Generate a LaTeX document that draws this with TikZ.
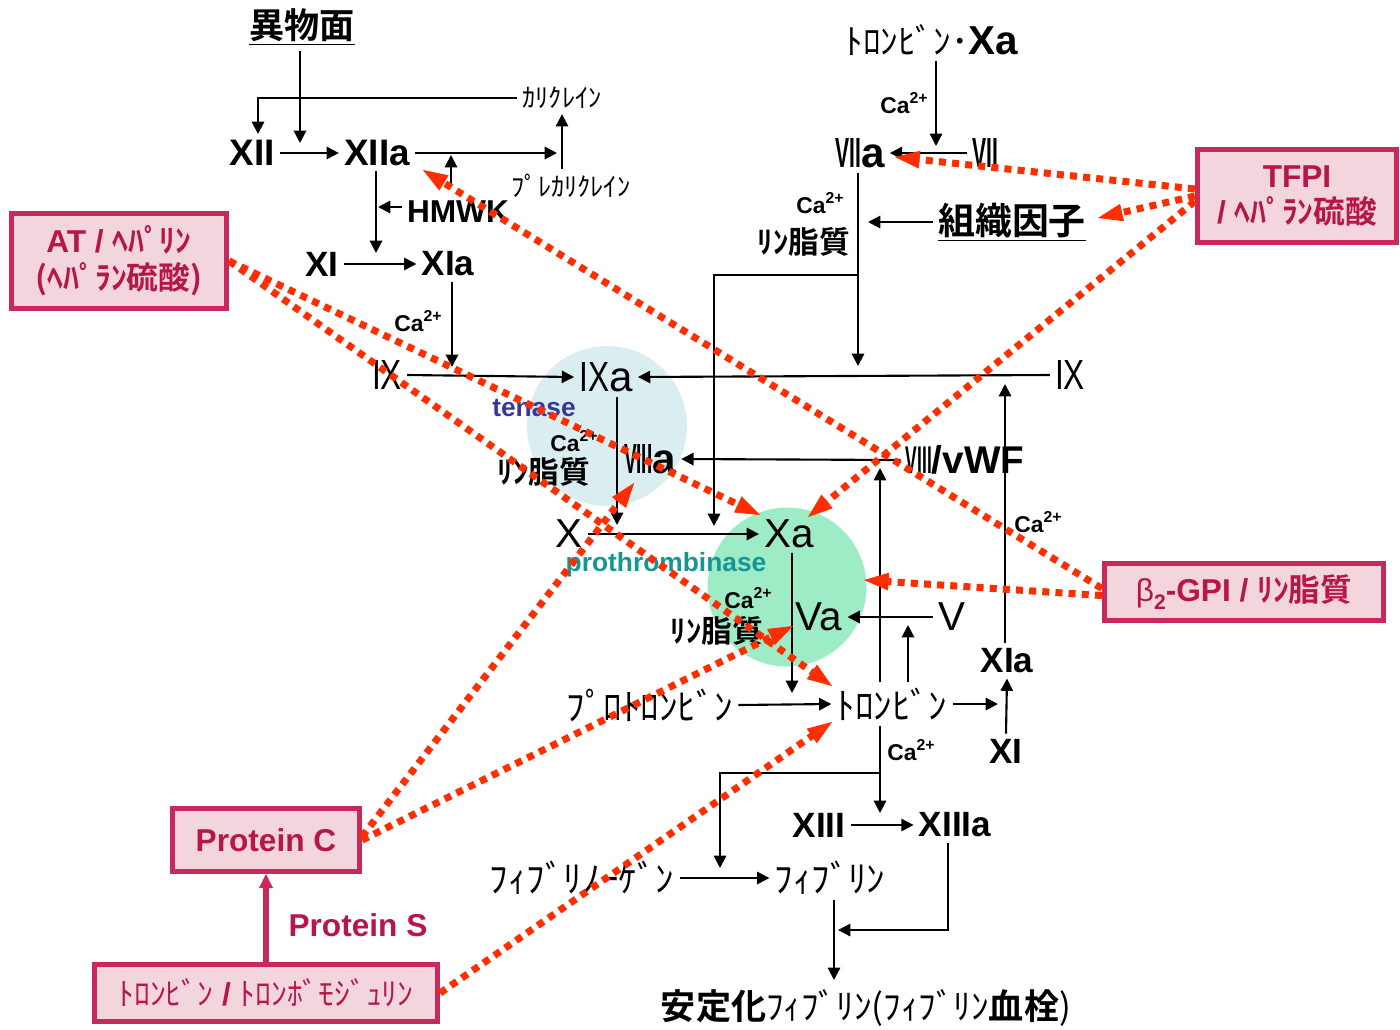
\documentclass[tikz,border=0pt]{standalone}
\usepackage{fontspec}
\usepackage{graphicx}
\setmainfont{Liberation Sans}
\newfontfamily\jp{Noto Sans CJK JP}[BoldFont={Noto Sans CJK JP Bold}]
\usetikzlibrary{arrows.meta}

\definecolor{inhib}{RGB}{255,45,0}
\definecolor{regbd}{RGB}{200,40,90}
\definecolor{regfill}{RGB}{243,213,222}
\definecolor{regtxt}{RGB}{185,22,72}
\definecolor{tenfill}{RGB}{218,237,241}
\definecolor{profill}{RGB}{158,236,198}
\definecolor{tentxt}{RGB}{55,55,160}
\definecolor{protxt}{RGB}{20,150,150}

\newcommand\fsz[1]{\fontsize{#1}{#1}\selectfont}
\newcommand\caion{\fsz{13}\bfseries Ca\raisebox{0.42em}{\fsz{9}\bfseries 2+}}
\newcommand\cnd[2]{\scalebox{#1}[1]{#2}}

\begin{document}
\begin{tikzpicture}[x=0.02cm, y=-0.02cm,
  lab/.style={inner sep=0pt, outer sep=3pt},
  fac/.style={lab, font=\fsz{21}\bfseries},
  rom/.style={lab, font=\fsz{24}},
  romb/.style={lab, font=\fsz{24}\bfseries},
  kana/.style={lab, font=\jp\fsz{21}},
  kanas/.style={lab, font=\jp\fsz{15}},
  lipid/.style={lab, font=\jp\bfseries\fsz{17.5}},
  arr/.style={line width=1.2pt, -{Triangle[length=7pt,width=7pt]}},
  inh/.style={draw=inhib, line width=4pt, dash pattern=on 4pt off 3.5pt,
              -{Triangle[length=14pt,width=10pt,line width=0.4pt]}},
  regbox/.style={draw=regbd, line width=3pt, fill=regfill, text=regtxt,
                 inner sep=0pt, align=center, font=\fsz{18}\bfseries},
]
\useasboundingbox (0,0) rectangle (1400,1029);

% enzyme complexes
\node[circle, fill=tenfill, minimum size=3.2cm, inner sep=0pt] (tenase) at (607,426) {};
\node[circle, fill=profill, minimum size=3.18cm, inner sep=0pt] (prothrombinase) at (787,587) {};

% contact pathway
\node[lab, font=\jp\bfseries\fsz{20}] (ibutsu) at (302,27) {\underline{異物面}};
\node[kanas] (kal) at (562,98) {ｶﾘｸﾚｲﾝ};
\node[kanas] (prekal) at (571,186) {ﾌﾟﾚｶﾘｸﾚｲﾝ};
\node[fac] (XII) at (252,153) {XII};
\node[fac] (XIIa) at (377,153) {XIIa};
\node[lab, font=\fsz{18}\bfseries] (HMWK) at (458,212) {HMWK};
\node[fac, font=\fsz{20}\bfseries] (XI) at (322,264) {XI};
\node[fac, font=\fsz{20}\bfseries] (XIa) at (448,264) {XIa};
\node[lab] (ca1) at (418,321) {\caion};
\node[rom] (IX) at (387,375) {\cnd{0.75}{IX}};
\node[rom] (IXa) at (606,377) {\cnd{0.75}{IX}a};

% tenase labels
\node[lab, font=\fsz{15}\bfseries, text=tentxt] (tenlbl) at (534,408) {tenase};
\node[lab] (ca2) at (574,441) {\caion};
\node[lipid] (lip2) at (544,472) {ﾘﾝ脂質};
\node[romb] (VIIIa) at (650,459) {\cnd{0.45}{VIII}a};

% extrinsic pathway
\node[lab, font=\fsz{20}] (thrXa) at (932,40) {{\jp ﾄﾛﾝﾋﾞﾝ･}\textbf{\fsz{23}Xa}};
\node[lab] (ca3) at (904,103) {\caion};
\node[romb] (VIIa) at (860,153) {\cnd{0.5}{VII}a};
\node[romb] (VII) at (985,153) {\cnd{0.5}{VII}};
\node[lab] (ca4) at (820,203) {\caion};
\node[lipid] (lip4) at (804,242) {ﾘﾝ脂質};
\node[lab, font=\jp\bfseries\fsz{21}] (TF) at (1012,222) {\underline{組織因子}};
\node[rom] (IXr) at (1070,375) {\cnd{0.75}{IX}};
\node[romb, font=\fsz{22}\bfseries] (VIIIv) at (965,460) {\cnd{0.45}{VIII}/vWF};
\node[lab] (ca5) at (1038,522) {\caion};

% common pathway
\node[rom, font=\fsz{23}] (X) at (569,534) {X};
\node[rom, font=\fsz{23}] (Xa) at (789,534) {Xa};
\node[lab, font=\fsz{15}\bfseries, text=protxt] (prolbl) at (666,565) {prothrombinase};
\node[lab] (ca6) at (748,598) {\caion};
\node[lipid] (lip6) at (717,631) {ﾘﾝ脂質};
\node[rom, font=\fsz{23}] (Va) at (819,617) {Va};
\node[rom, font=\fsz{23}] (V) at (952,617) {V};
\node[kana] (prothr) at (650,705) {ﾌﾟﾛﾄﾛﾝﾋﾞﾝ};
\node[kana] (thr) at (892,704) {ﾄﾛﾝﾋﾞﾝ};
\node[fac, font=\fsz{20}\bfseries] (XIa2) at (1007,661) {XIa};
\node[fac, font=\fsz{20}\bfseries] (XI2) at (1006,751) {XI};
\node[lab] (ca7) at (911,750) {\caion};
\node[fac, font=\fsz{20}\bfseries] (XIII) at (819,825) {XIII};
\node[fac, font=\fsz{20}\bfseries] (XIIIa) at (955,825) {XIIIa};
\node[kana] (fgn) at (582,878) {ﾌｨﾌﾞﾘﾉｰｹﾞﾝ};
\node[kana] (fbn) at (830,878) {ﾌｨﾌﾞﾘﾝ};
\node[lab, font=\jp\fsz{20}] (stable) at (866,1008) {\textbf{安定化}ﾌｨﾌﾞﾘﾝ(ﾌｨﾌﾞﾘﾝ\textbf{血栓})};

% regulators
\node[regbox, minimum width=4.3cm, minimum height=1.9cm] (AT) at (119,261)
  {\fsz{18}AT / {\jp ﾍﾊﾟﾘﾝ}\\[3pt]{\jp (ﾍﾊﾟﾗﾝ硫酸)}};
\node[regbox, minimum width=3.98cm, minimum height=1.86cm] (TFPI) at (1297,196)
  {TFPI\\[3pt]/ {\jp ﾍﾊﾟﾗﾝ硫酸}};
\node[regbox, minimum width=5.58cm, minimum height=1.14cm] (B2) at (1244,592)
  {{\mdseries β}\raisebox{-0.25em}{\fsz{12}2}-GPI / {\jp ﾘﾝ脂質}};
\node[regbox, minimum width=3.74cm, minimum height=1.26cm] (PC) at (266,840) {Protein C};
\node[regbox, minimum width=6.86cm, minimum height=1.14cm] (TM) at (266,993)
  {{\jp\mdseries ﾄﾛﾝﾋﾞﾝ} / {\jp\mdseries ﾄﾛﾝﾎﾞﾓｼﾞｭﾘﾝ}};
\node[lab, font=\fsz{18}\bfseries, text=regtxt] (PS) at (358,925) {Protein S};
\draw[draw=regbd, line width=3pt, -{Triangle[length=8pt,width=8pt,line width=0.3pt]}, fill=regbd]
  (TM.north) -- (PC.south);

% junction points on the reaction lines
\coordinate (jXII) at (300,143);
\coordinate (jKal) at (258,134);
\coordinate (pkx) at (557,153);
\coordinate (jHM) at (451,155);
\coordinate (jXI) at (376,253);
\coordinate (jHMW) at (378,207);
\coordinate (jIX) at (452,367);
\coordinate (jX) at (617,525);
\coordinate (jVII) at (936,146);
\coordinate (jIXr) at (858,366);
\coordinate (br1) at (858,275);
\coordinate (jXa) at (714,526);
\coordinate (jTF) at (868,222);
\coordinate (jIXr2) at (1005,384);
\coordinate (jVIII) at (880,468);
\coordinate (jPT) at (792,693);
\coordinate (jV) at (908,625);
\coordinate (jXI2) at (998,704);
\coordinate (jXIII) at (880,813);
\coordinate (br2) at (880,773);
\coordinate (jFg) at (720,868);
\coordinate (jSt) at (834,980);
\coordinate (cXIIIa) at (948,930);
\coordinate (jFb) at (838,930);

% reaction arrows
\draw[arr] (ibutsu.south -| jXII) -- (jXII);
\draw[arr] (kal.west) -| (jKal);
\draw[arr] (XII.east) -- (XIIa.west);
\draw[arr] (XIIa.east) -- (pkx);
\draw[arr] (prekal.north -| kal.south) -- (kal.south);
\draw[arr] ([yshift=5pt]HMWK.north -| jHM) -- (jHM);
\draw[arr] (XIIa.south -| jXI) -- (jXI);
\draw[arr] (HMWK.west |- jHMW) -- (jHMW);
\draw[arr] (XI.east) -- (XIa.west);
\draw[arr] (XIa.south -| jIX) -- (jIX);
\draw[arr] (IX.east) -- (IXa.west);
\draw[arr] (IXr.west) -- (IXa.east);
\draw[arr] (IXa.south -| jX) -- (jX);
\draw[arr] (VIIIv.west) -- (VIIIa.east);
\draw[arr] (thrXa.south -| jVII) -- (jVII);
\draw[arr] (VII.west) -- (VIIa.east);
\draw[arr] (VIIa.south -| jIXr) -- (jIXr);
\draw[arr] (br1) -| (jXa);
\draw[arr] (TF.west |- jTF) -- (jTF);
\draw[arr] (XIa2.north -| jIXr2) -- (jIXr2);
\draw[arr] (thr.north -| jVIII) -- (jVIII);
\draw[arr] (X.east) -- (Xa.west);
\draw[arr] (Xa.south -| jPT) -- (jPT);
\draw[arr] (V.west) -- (Va.east);
\draw[arr] (thr.north -| jV) -- (jV);
\draw[arr] (prothr.east) -- (thr.west);
\draw[arr] (thr.east) -- (jXI2);
\draw[arr] (XI2.north) -- (XIa2.south);
\draw[arr] (thr.south -| jXIII) -- (jXIII);
\draw[arr] (br2) -| (jFg);
\draw[arr] (XIII.east) -- (XIIIa.west);
\draw[arr] (fgn.east) -- (fbn.west);
\draw[arr] (fbn.south -| jSt) -- (jSt);
\draw[arr] (XIIIa.south -| cXIIIa) -- (cXIIIa) -- (jFb);

% inhibition targets
\coordinate (t1) at (895,157);
\coordinate (t2) at (1098,218);
\coordinate (t3) at (808,517);
\coordinate (t4) at (760,515);
\coordinate (t5) at (832,686);
\coordinate (t6) at (423,170);
\coordinate (t7) at (864,580);
\coordinate (t8) at (634,483);
\coordinate (t9) at (793,626);
\coordinate (t10) at (832,722);

% inhibitory actions
\draw[inh] ([yshift=4pt]TFPI.west) -- (t1);
\draw[inh] (TFPI.west) -- (t2);
\draw[inh] ([yshift=-3pt]TFPI.west) -- (t3);
\draw[inh] (AT.east) -- (t4);
\draw[inh] (AT.east) -- (t5);
\draw[inh] ([yshift=2pt]B2.west) -- (t6);
\draw[inh] ([yshift=-2pt]B2.west) -- (t7);
\draw[inh] ([yshift=2pt]PC.east) -- (t8);
\draw[inh] (PC.east) -- (t9);
\draw[inh] (TM.east) -- (t10);
\end{tikzpicture}
\end{document}
